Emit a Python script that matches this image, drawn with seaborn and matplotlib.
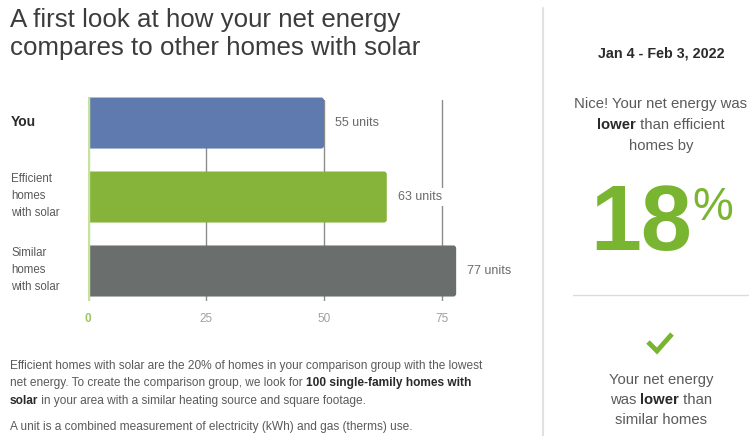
import matplotlib
matplotlib.use('Agg')
import matplotlib.pyplot as plt
from matplotlib.lines import Line2D
from matplotlib.patches import FancyBboxPatch
import seaborn as sns

# data
categories = ['You', 'Efficient homes with solar', 'Similar homes with solar']
bar_values = [50, 63.3, 78]
value_labels = ['55 units', '63 units', '77 units']
bar_colors = ['#5f7aae', '#86b43a', '#6a6e6d']
x_ticks = [0, 25, 50, 75]

GREEN = '#7ab532'
GRAY = '#5a5a5a'
W, H = 749, 436

sns.set_style('white')
plt.rcParams['font.family'] = ['Liberation Sans', 'DejaVu Sans']

fig = plt.figure(figsize=(W / 100, H / 100), dpi=100)

def fx(px):
    return px / W

def fy(py):
    return 1 - py / H

# bar chart axes: 0 at x=88px, 4.72 px per unit
ax = fig.add_axes([fx(88), fy(300.6), fx(80 * 4.72), (300.6 - 97.5) / H])
sns.barplot(x=bar_values, y=categories, hue=categories, palette=bar_colors,
            orient='h', width=0.69, saturation=1, legend=False, ax=ax, zorder=3)
ax.set_xlim(0, 80)
ax.set_ylim(2.4, -0.345)

# rounded bar ends (left side tucked behind the axis edge)
for p in list(ax.patches):
    x0, y0, w, h = p.get_x(), p.get_y(), p.get_width(), p.get_height()
    ax.add_patch(FancyBboxPatch((x0 - 2, y0), w + 2, h,
                                boxstyle='round,pad=0,rounding_size=0.6',
                                mutation_aspect=0.065, fc=p.get_facecolor(),
                                ec='none', zorder=3))
    p.set_visible(False)

ax.set_yticks([])
ax.set_xticks(x_ticks)
ax.set_xticklabels([str(t) for t in x_ticks])
ax.tick_params(axis='x', length=0, pad=9, labelsize=8.5, labelcolor='#a0a0a0')
ax.get_xticklabels()[0].set_color('#9cc760')
ax.get_xticklabels()[0].set_fontweight('bold')
ax.set_xlabel('')
ax.set_ylabel('')
sns.despine(ax=ax, left=True, bottom=True)
for t in x_ticks[1:]:
    ax.axvline(t, ymax=0.99, color='#8c8c8c', lw=1, zorder=1)
ax.axvline(0, color='#c6e29e', lw=2.5, zorder=4)

for i, (v, lab) in enumerate(zip(bar_values, value_labels)):
    ax.annotate(lab, (v, i), xytext=(8, 0), textcoords='offset points',
                va='center', ha='left', fontsize=9, color='#6a6a6a', zorder=5,
                bbox=dict(boxstyle='square,pad=0.25', fc='white', ec='none'))

# title
fig.text(fx(10), fy(20), 'A first look at how your net energy', fontsize=18.6,
         color='#3c3c3c', va='center', ha='left')
fig.text(fx(10), fy(48), 'compares to other homes with solar', fontsize=18.6,
         color='#3c3c3c', va='center', ha='left')

# category labels
fig.text(fx(11), fy(122), 'You', fontsize=10, fontweight='bold', color='#2a2a2a',
         va='center', ha='left')
fig.text(fx(11), fy(196), 'Efficient\nhomes\nwith solar', fontsize=8.3, color=GRAY,
         va='center', ha='left', linespacing=1.5)
fig.text(fx(11), fy(270), 'Similar\nhomes\nwith solar', fontsize=8.3, color=GRAY,
         va='center', ha='left', linespacing=1.5)

renderer = fig.canvas.get_renderer()

def advance(s, size, weight):
    t1 = fig.text(0, 0, '|' + s + '|', fontsize=size, fontweight=weight)
    t2 = fig.text(0, 0, '||', fontsize=size, fontweight=weight)
    w = t1.get_window_extent(renderer).width - t2.get_window_extent(renderer).width
    t1.remove()
    t2.remove()
    return w

def runs_line(y, runs, x=None, cx=None, size=8, color=GRAY):
    widths = [advance(s, size, wt) for s, wt in runs]
    start = x if x is not None else cx - sum(widths) / 2
    for (s, wt), w in zip(runs, widths):
        fig.text(fx(start), fy(y), s, fontsize=size, fontweight=wt,
                 color='#2a2a2a' if wt == 'bold' else color, va='center', ha='left')
        start += w

# footnotes
FS = 8.6
runs_line(366, [('Efficient homes with solar are the 20% of homes in your comparison group with the lowest', 'normal')], x=10, size=FS)
runs_line(383, [('net energy. To create the comparison group, we look for ', 'normal'),
                ('100 single-family homes with', 'bold')], x=10, size=FS)
runs_line(401, [('solar', 'bold'),
                (' in your area with a similar heating source and square footage.', 'normal')], x=10, size=FS)
runs_line(427, [('A unit is a combined measurement of electricity (kWh) and gas (therms) use.', 'normal')], x=10, size=FS)

# right panel
fig.add_artist(Line2D([fx(543), fx(543)], [fy(8), fy(436)], color='#e2e2e2', lw=1.5))
fig.add_artist(Line2D([fx(573), fx(748)], [fy(295), fy(295)], color='#dcdcdc', lw=1))

CX = 661
RS = 10.7
runs_line(53, [('Jan 4 - Feb 3, 2022', 'bold')], cx=CX, size=10.3, color='#2a2a2a')
runs_line(104, [('Nice! Your net energy was', 'normal')], cx=CX, size=RS)
runs_line(125, [('lower', 'bold'), (' than efficient', 'normal')], cx=CX, size=RS)
runs_line(146, [('homes by', 'normal')], cx=CX, size=RS)

fig.text(fx(590), fy(250), '18', fontsize=66, fontweight='bold', color=GREEN,
         ha='left', va='baseline')
fig.text(fx(692), fy(220), '%', fontsize=33, color=GREEN, ha='left', va='baseline')

fig.add_artist(Line2D([fx(648), fx(657), fx(672)], [fy(342), fy(351), fy(334)],
                      color=GREEN, lw=3.5, solid_capstyle='butt', solid_joinstyle='miter'))

runs_line(380, [('Your net energy', 'normal')], cx=CX, size=RS)
runs_line(400, [('was ', 'normal'), ('lower', 'bold'), (' than', 'normal')], cx=CX, size=RS)
runs_line(420, [('similar homes', 'normal')], cx=CX, size=RS)

fig.savefig('out.png', dpi=100)
